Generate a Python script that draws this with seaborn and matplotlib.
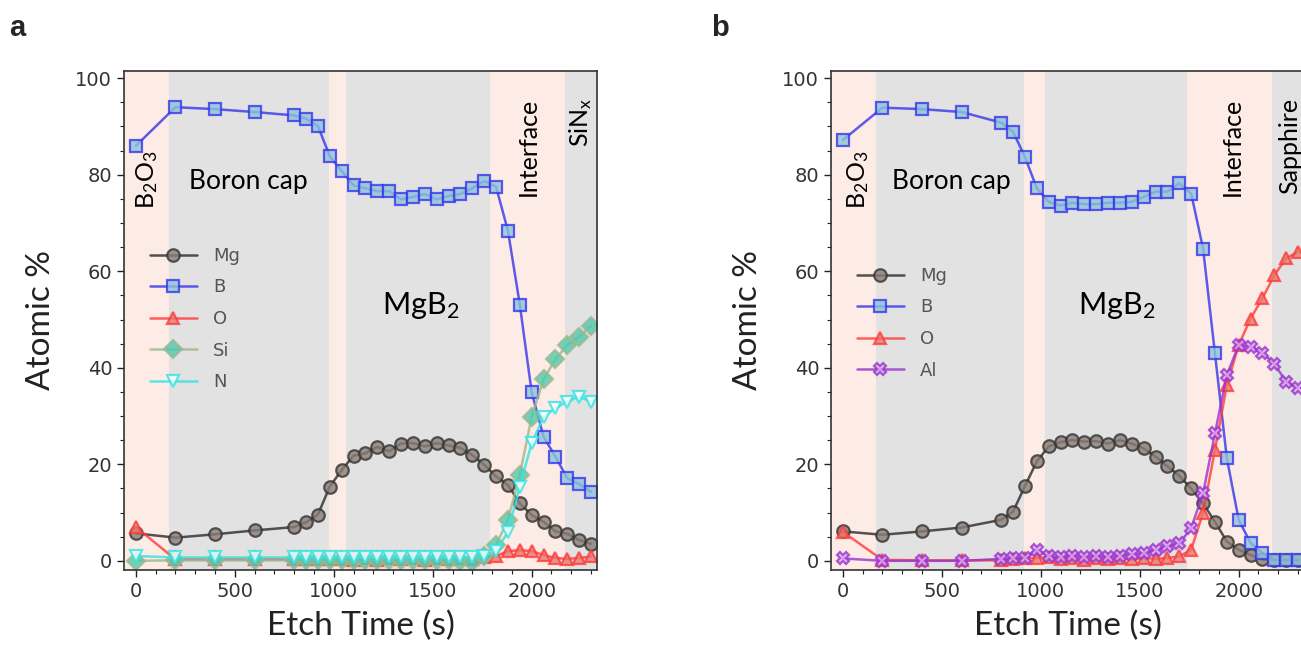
import matplotlib
matplotlib.use("Agg")
import matplotlib.pyplot as plt
from matplotlib.ticker import MultipleLocator
import seaborn as sns

# etch times (s), shared by both depth profiles
times = [0, 200, 400, 600, 800, 860, 920, 980, 1040, 1100, 1160, 1220, 1280, 1340,
         1400, 1460, 1520, 1580, 1640, 1700, 1760, 1820, 1880, 1940, 2000, 2060,
         2120, 2180, 2240, 2300]

# panel a : MgB2 on SiNx
mg_a = [5.7, 4.8, 5.5, 6.3, 7.0, 8.0, 9.6, 15.4, 18.8, 21.8, 22.3, 23.6, 22.7, 24.3,
        24.4, 23.7, 24.4, 23.9, 23.4, 21.9, 19.9, 17.5, 15.7, 11.9, 9.5, 8.1,
        6.1, 5.6, 4.3, 3.5]
b_a = [86.0, 94.0, 93.6, 93.0, 92.3, 91.6, 90.1, 83.8, 80.8, 77.8, 77.2, 76.6, 76.6, 74.9,
       75.4, 76.0, 74.9, 75.6, 76.0, 77.2, 78.7, 77.5, 68.4, 53.1, 34.9, 25.7,
       21.6, 17.1, 15.9, 14.3]
o_a = [7.0, 0.3, 0.3, 0.3, 0.3, 0.3, 0.3, 0.3, 0.4, 0.2, 0.5, 0.2, 0.5, 0.3,
       0.5, 0.2, 0.5, 0.3, 0.5, 0.4, 0.8, 1.0, 2.0, 2.2, 2.0, 1.2,
       0.6, 0.4, 0.6, 0.9]
si_a = [0.0, 0.1, 0.1, 0.1, 0.1, 0.1, 0.1, 0.1, 0.1, 0.1, 0.1, 0.1, 0.1, 0.1,
        0.1, 0.1, 0.1, 0.1, 0.0, -0.2, 1.0, 3.3, 8.5, 17.8, 29.9, 37.6,
        41.8, 44.7, 46.4, 48.7]
n_a = [1.0, 0.7, 0.7, 0.7, 0.7, 0.7, 0.7, 0.7, 0.7, 0.7, 0.7, 0.7, 0.7, 0.7,
       0.7, 0.7, 0.7, 0.7, 0.7, 0.7, 0.9, 2.0, 6.0, 15.4, 24.4, 29.9,
       31.6, 33.0, 34.0, 33.0]

# panel b : MgB2 on sapphire
mg_b = [6.1, 5.4, 6.1, 6.9, 8.5, 10.2, 15.5, 20.6, 23.7, 24.6, 25.0, 24.7, 24.8, 24.3,
        25.0, 24.3, 23.3, 21.6, 19.6, 17.6, 15.0, 11.9, 8.1, 4.0, 2.3, 1.2,
        0.3, 0.1, 0.1, 0.1]
b_b = [87.2, 93.9, 93.6, 93.0, 90.8, 88.9, 83.7, 77.2, 74.4, 73.6, 74.2, 73.9, 73.9, 74.2,
       74.2, 74.4, 75.4, 76.5, 76.5, 78.2, 76.1, 64.7, 43.0, 21.3, 8.5, 3.7,
       1.6, 0.2, 0.2, 0.2]
o_b = [6.0, 0.2, 0.1, 0.1, 0.1, 0.3, 0.5, 0.6, 0.8, 0.3, 0.6, 0.2, 0.5, 0.3,
       0.6, 0.3, 0.6, 0.4, 0.6, 0.9, 2.3, 10.0, 23.0, 36.4, 44.7, 50.2,
       54.4, 59.2, 62.7, 64.0]
al_b = [0.5, 0.0, 0.0, 0.0, 0.4, 0.5, 0.6, 2.3, 1.0, 0.7, 1.1, 0.8, 1.0, 0.8,
        1.1, 1.4, 1.6, 2.2, 3.0, 3.6, 6.8, 14.0, 26.4, 38.5, 44.7, 44.4,
        43.1, 40.8, 37.1, 35.8]

# layer regions (start, end, kind)
regions_a = [(-60, 167, "ox"), (167, 976, "film"), (976, 1061, "ox"),
             (1061, 1791, "film"), (1791, 2167, "ox"), (2167, 2330, "film")]
regions_b = [(-60, 166, "ox"), (166, 917, "film"), (917, 1019, "ox"),
             (1019, 1740, "film"), (1740, 2168, "ox"), (2168, 2330, "film")]

region_colors = {"ox": "#fdece5", "film": "#e2e2e2"}

# element: (line colour, marker, face colour, edge colour)
styles = {
    "Mg": ("#2a2a2a", "o", "#8a7d76", "#333333"),
    "B": ("#3535ec", "s", "#8ec3d9", "#3535ec"),
    "O": ("#ff3b3b", "^", "#e57a70", "#ff3b3b"),
    "Si": ("#9cb88c", "D", "#4fc9b0", "#9cb88c"),
    "N": ("#33e3e3", "v", "white", "#33e3e3"),
    "Al": ("#9933cc", "X", "#dcaaf2", "#9933cc"),
}

sns.set_theme(style="ticks")
plt.rcParams["font.family"] = ["DejaVu Sans"]
plt.rcParams["mathtext.fontset"] = "custom"
plt.rcParams["mathtext.rm"] = "Lato"
plt.rcParams["mathtext.default"] = "regular"

W, H = 1301, 645
fig = plt.figure(figsize=(W / 100, H / 100), dpi=100)
ax_a = fig.add_axes([124 / W, 1 - 570 / H, 473 / W, 499 / H])
ax_b = fig.add_axes([831 / W, 1 - 570 / H, 473 / W, 499 / H])

label_font = dict(family="Lato", size=24, color="#222222")
note_font = dict(family="Lato", color="black")


def draw_panel(ax, series, regions, notes, legend_anchor):
    for lo, hi, kind in regions:
        ax.axvspan(lo, hi, color=region_colors[kind], lw=0, zorder=0)
    for name, vals in series:
        line_c, mk, face_c, edge_c = styles[name]
        sns.lineplot(x=times, y=vals, ax=ax, color=line_c, marker=mk,
                     markerfacecolor=face_c, markeredgecolor=edge_c,
                     markersize=9, markeredgewidth=1.6, linewidth=1.8,
                     alpha=0.8, label=name, sort=False, estimator=None)
    ax.set_xlim(-60, 2330)
    ax.set_ylim(-1.9, 101.5)
    ax.xaxis.set_major_locator(MultipleLocator(500))
    ax.xaxis.set_minor_locator(MultipleLocator(100))
    ax.yaxis.set_major_locator(MultipleLocator(20))
    ax.yaxis.set_minor_locator(MultipleLocator(5))
    ax.tick_params(which="both", direction="out", colors="#222222",
                   labelsize=14, labelcolor="#333333")
    ax.tick_params(which="major", length=5, width=1)
    ax.tick_params(which="minor", length=3, width=0.8)
    for sp in ax.spines.values():
        sp.set_visible(True)
        sp.set_color("#333333")
        sp.set_linewidth(1.2)
    ax.set_xlabel("Etch Time (s)", labelpad=7, **label_font)
    ax.set_ylabel("Atomic %", labelpad=14, **label_font)
    leg = ax.legend(loc="upper left", bbox_to_anchor=legend_anchor, frameon=False,
                    fontsize=13, handlelength=2.6, labelspacing=0.75,
                    handletextpad=0.9)
    for t in leg.get_texts():
        t.set_color("#555555")
    for x, y, txt, rot, size, ha, va in notes:
        ax.text(x, y, txt, rotation=rot, fontsize=size, ha=ha, va=va, **note_font)


notes_a = [
    (55, 79, r"B$_2$O$_3$", 90, 18, "center", "center"),
    (268, 78.5, "Boron cap", 0, 19, "left", "center"),
    (1440, 53, r"MgB$_2$", 0, 22, "center", "center"),
    (1985, 96, "Interface", 90, 18, "center", "top"),
    (2245, 96, r"SiN$_x$", 90, 18, "center", "top"),
]
notes_b = [
    (75, 79, r"B$_2$O$_3$", 90, 18, "center", "center"),
    (250, 78.5, "Boron cap", 0, 19, "left", "center"),
    (1385, 53, r"MgB$_2$", 0, 22, "center", "center"),
    (1965, 96, "Interface", 90, 18, "center", "top"),
    (2255, 96, "Sapphire", 90, 18, "center", "top"),
]

draw_panel(ax_a, [("Mg", mg_a), ("B", b_a), ("O", o_a), ("Si", si_a), ("N", n_a)],
           regions_a, notes_a, (0.02, 0.68))
draw_panel(ax_b, [("Mg", mg_b), ("B", b_b), ("O", o_b), ("Al", al_b)],
           regions_b, notes_b, (0.02, 0.64))

fig.text(9 / W, 1 - 28 / H, "a", family="Liberation Sans", weight="bold",
         size=21, va="center", ha="left")
fig.text(711 / W, 1 - 28 / H, "b", family="Liberation Sans", weight="bold",
         size=21, va="center", ha="left")

fig.savefig("out.png", dpi=100)
